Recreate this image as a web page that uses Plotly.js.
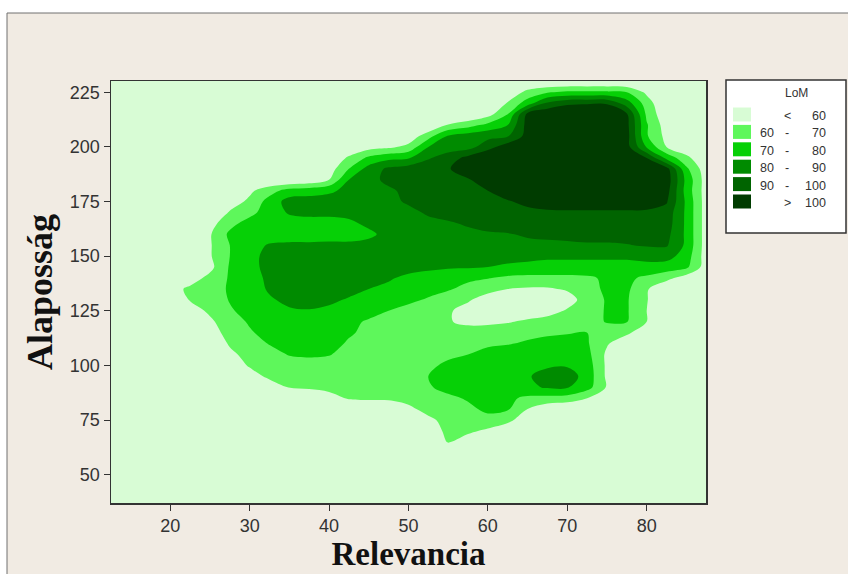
<!DOCTYPE html>
<html><head><meta charset="utf-8">
<script src="https://cdn.plot.ly/plotly-3.0.1.min.js"></script>
<style>html,body{margin:0;padding:0;background:#fff;}#chart{width:848px;height:574px;}</style>
</head><body><div id="chart"></div>
<script>
// Relevancia (x grid) and Alaposság (y grid, top to bottom)
const relevancia = [10,12.5,15,17.5,20,22.5,25,27.5,30,32.5,35,37.5,40,42.5,45,47.5,50,52.5,55,57.5,60,62.5,65,67.5,70,72.5,75,77.5,80,82.5,85,87.5,90];
const alapossag = [235,230,225,220,215,210,205,200,195,190,185,180,175,170,165,160,155,150,145,140,135,130,125,120,115,110,105,100,95,90,85,80,75,70,65,60,55,50,45,40,35];
// LoM values, one row per Alaposság value
const lom = [
[50,50,50,50,50,50,50,50,50,50,50, 50,50,50,50,50,50,50,50,50,50,50, 50,50,50,50,50,50,50,50,50,50,50],
[50,50,50,50,50,50,50,50,50,50,50, 50,50,50,50,50,50,50,50,50,50,50, 50,50,50,50,50,50,50,50,50,50,50],
[50,50,50,50,50,50,50,50,50,50,50, 50,50,50,50,50,50,50,50,50,50,52, 63,69,72,72,72,70,58,50,50,50,50],
[50,50,50,50,50,50,50,50,50,50,50, 50,50,50,50,50,50,50,50,50,50,61, 75,92,98,99,99,85,65,50,50,50,50],
[50,50,50,50,50,50,50,50,50,50,50, 50,50,50,50,50,50,50,50,50,56,70, 103,108,110,110,110,101,68,52,50,50,50],
[50,50,50,50,50,50,50,50,50,50,50, 50,50,50,50,50,50,50,61,66,73,80, 104,110,112,112,112,103,71,55,50,50,50],
[50,50,50,50,50,50,50,50,50,50,50, 50,50,50,50,50,53,66,81,85,87,89, 104,110,112,112,112,104,71,57,50,50,50],
[50,50,50,50,50,50,50,50,50,50,50, 50,50,50,56,58,63,80,85,86,96,106, 110,112,112,112,112,104,79,60,52,50,50],
[50,50,50,50,50,50,50,50,50,50,50, 50,50,62,72,77,79,89,95,103,110,112, 112,112,112,112,112,110,100,77,63,50,50],
[50,50,50,50,50,50,50,50,50,50,50, 50,55,70,84,92,95,96,99,107,110,112, 112,112,112,112,112,112,110,104,72,54,50],
[50,50,50,50,50,50,50,50,50,50,50, 52,60,80,86,93,95,96,97,99,106,110, 112,112,112,112,112,112,112,106,77,55,50],
[50,50,50,50,50,50,50,50,58,66,74, 76,78,83,86,88,93,95,96,97,100,106, 110,110,110,110,110,110,110,104,76,55,50],
[50,50,50,50,50,50,50,55,62,74,84, 84,85,86,87,88,91,94,95,96,97,99, 103,106,108,108,108,108,106,101,78,55,50],
[50,50,50,50,50,50,50,61,67,75,81, 82,82,83,85,86,88,91,93,94,95,96, 97,98,98,98,98,98,98,96,78,55,50],
[50,50,50,50,50,50,56,67,74,76,76, 77,77,78,82,84,86,88,89,91,93,94, 95,96,96,96,96,96,96,95,78,55,50],
[50,50,50,50,50,50,59,72,75,75,75, 75,76,76,78,83,85,86,87,88,89,89.5, 91,92,93,93,93,94,94,93,78,55,50],
[50,50,50,50,50,50,59,70,76,81,82, 82,82,82,83,84,85,85,86,86,87,87, 88,88,88,89,89,89.5,91,91,78,55,50],
[50,50,50,50,50,50,59,70,77,83,85, 86,86,86,86,86,86,85,84,83,83,82, 82,81,81,81,81,81,83,84,75,55,50],
[50,50,50,50,50,50,57,71,77,83,86, 87,87,86,85,84,83,82,81,81,80,79, 78,78,78,78,78,78,77,75,72,55,50],
[50,50,50,50,50,55,63,71,76,82,85, 86,86,85,83,81,78,76,74,72,70.5,68, 67,67,67,68,72,72,68,63,55,50,50],
[50,50,50,50,56,62,66,71,76,81,85, 86,85,83,80,78,76,73,71,67,63,60, 59,59,61,66,72,72,61,52,50,50,50],
[50,50,50,50,55,60.5,65,70.5,75,79,82, 83,82,79,76,74,72,69,65,61,56,53, 52,52,56,64,71,71,60.5,52,50,50,50],
[50,50,50,50,50,55,62,69,73,76,79, 79.5,78,76,73,70,67,64,61,57,53,52, 53,56,61,65,71,71,60,52,50,50,50],
[50,50,50,50,50,50,58,66,71,74,76, 76,75,72,69,67,65,63,61,57,57,59, 62,64,65,67,70.5,70.5,60,52,50,50,50],
[50,50,50,50,50,50,55,64,69,73,75, 75,74,71,68,67,66,66,66,66,67,67, 68,69,69.5,70,66,62,53,50,50,50,50],
[50,50,50,50,50,50,53,61,66,70.5,73, 74,73,69,67,66,66,66,67,68,69,69.5, 71,72,73,71,61,53,50,50,50,50,50],
[50,50,50,50,50,50,50,58,63,67,70.5, 71.5,70.5,67,66,65,65,66,68,70,72,74, 75,76,76,73,58,50,50,50,50,50,50],
[50,50,50,50,50,50,50,54,61,64,66, 66,66,65,65,65,66,68,72,74,75,76, 77,78.5,79,75,58,50,50,50,50,50,50],
[50,50,50,50,50,50,50,50,56,62,64, 65,65,65,65,65,67,70,74,76,76,77, 79,84,85,76,58,50,50,50,50,50,50],
[50,50,50,50,50,50,50,50,50,55,60.5, 62,63,63,63,63,65,69,73,74,75,76, 78,81,81,74,59,50,50,50,50,50,50],
[50,50,50,50,50,50,50,50,50,50,50, 50,56,61,62,62,63,65,68,71,73,72, 68,67,66,60,52,50,50,50,50,50,50],
[50,50,50,50,50,50,50,50,50,50,50, 50,50,50,50,52,58,63,65,68,72,71, 60,53,50,50,50,50,50,50,50,50,50],
[50,50,50,50,50,50,50,50,50,50,50, 50,50,50,50,50,50,58,63,65,67,63, 53,50,50,50,50,50,50,50,50,50,50],
[50,50,50,50,50,50,50,50,50,50,50, 50,50,50,50,50,50,53,63,62,58,52, 50,50,50,50,50,50,50,50,50,50,50],
[50,50,50,50,50,50,50,50,50,50,50, 50,50,50,50,50,50,50,61,55,50,50, 50,50,50,50,50,50,50,50,50,50,50],
[50,50,50,50,50,50,50,50,50,50,50, 50,50,50,50,50,50,50,50,50,50,50, 50,50,50,50,50,50,50,50,50,50,50],
[50,50,50,50,50,50,50,50,50,50,50, 50,50,50,50,50,50,50,50,50,50,50, 50,50,50,50,50,50,50,50,50,50,50],
[50,50,50,50,50,50,50,50,50,50,50, 50,50,50,50,50,50,50,50,50,50,50, 50,50,50,50,50,50,50,50,50,50,50],
[50,50,50,50,50,50,50,50,50,50,50, 50,50,50,50,50,50,50,50,50,50,50, 50,50,50,50,50,50,50,50,50,50,50],
[50,50,50,50,50,50,50,50,50,50,50, 50,50,50,50,50,50,50,50,50,50,50, 50,50,50,50,50,50,50,50,50,50,50],
[50,50,50,50,50,50,50,50,50,50,50, 50,50,50,50,50,50,50,50,50,50,50, 50,50,50,50,50,50,50,50,50,50,50]
];
const xTicks = [20,30,40,50,60,70,80];
const yTicks = [50,75,100,125,150,175,200,225];
const bandColors = ['#d8fcd5','#5ef75b','#06d006','#008b00','#006400','#003c00'];
const legendTitle = 'LoM';
const legendLow  = ['',  '60','70','80','90', ''];
const legendSep  = ['<', '-', '-', '-', '-', '>'];
const legendHigh = ['60','70','80','90','100','100'];

const W = 848, H = 574, ML = 111, MR = 142, MT = 81, MB = 71;
const PW = W - ML - MR, PH = H - MT - MB;
const px = v => (v - ML) / PW;
const py = v => (H - MB - v) / PH;

const stops = [0, 0.08, 0.26, 0.45, 0.63, 0.82, 1];
const colorscale = [];
bandColors.forEach((c, i) => { colorscale.push([stops[i], c]); colorscale.push([stops[i+1], c]); });

const trace = {
  type: 'contour', x: relevancia, y: alapossag, z: lom,
  autocontour: false,
  contours: {start: 60, end: 100, size: 10, coloring: 'fill', showlines: false},
  line: {width: 0, smoothing: 1},
  colorscale: colorscale, showscale: false, hoverinfo: 'skip'
};

const shapes = [{
  type: 'rect', xref: 'paper', yref: 'paper', layer: 'below',
  x0: px(7), x1: px(860), y0: py(590), y1: py(13),
  fillcolor: '#f1ebe3', line: {color: '#707070', width: 1}
}, {
  type: 'rect', xref: 'paper', yref: 'paper',
  x0: px(726), x1: px(846), y0: py(233), y1: py(80),
  fillcolor: '#ffffff', line: {color: '#333333', width: 1.5}
}];
const annotations = [{
  xref: 'paper', yref: 'paper', x: px(797), y: py(93), text: legendTitle, showarrow: false,
  xanchor: 'center', yanchor: 'middle', font: {family: 'Liberation Sans, Arial, sans-serif', size: 12, color: '#333'}
}];
const lf = {family: 'Liberation Sans, Arial, sans-serif', size: 12.5, color: '#333'};
bandColors.forEach((c, i) => {
  const cy = 114.5 + i * 17.4;
  shapes.push({type: 'rect', xref: 'paper', yref: 'paper', x0: px(733), x1: px(751), y0: py(cy + 7), y1: py(cy - 7), fillcolor: c, line: {width: 0}});
  const ty = py(cy + 1.5);
  if (legendLow[i]) annotations.push({xref:'paper', yref:'paper', x: px(758), y: ty, text: legendLow[i], showarrow:false, xanchor:'left', yanchor:'middle', font: lf});
  annotations.push({xref:'paper', yref:'paper', x: px(787), y: ty, text: legendSep[i], showarrow:false, xanchor:'center', yanchor:'middle', font: lf});
  annotations.push({xref:'paper', yref:'paper', x: px(828), y: ty, text: legendHigh[i], showarrow:false, xanchor:'right', yanchor:'middle', font: lf});
});

const tickFont = {family: 'Liberation Sans, Arial, sans-serif', size: 18, color: '#333'};
const titleFont = {family: 'Liberation Serif, Times New Roman, serif', size: 33, color: '#111', weight: 'bold'};
const yTitleFont = {family: 'Liberation Serif, Times New Roman, serif', size: 36, color: '#111', weight: 'bold'};

const layout = {
  width: W, height: H, margin: {l: ML, r: MR, t: MT, b: MB, pad: 0},
  paper_bgcolor: '#ffffff', plot_bgcolor: bandColors[0],
  showlegend: false,
  xaxis: {range: [12.54, 87.47], tickvals: xTicks, ticktext: xTicks.map(String), ticks: 'outside', ticklen: 6, tickwidth: 1, tickcolor: '#333',
    showline: true, linecolor: '#333', linewidth: 1.5, mirror: true, showgrid: false, zeroline: false, tickfont: tickFont,
    title: {text: 'Relevancia', font: titleFont, standoff: 3}, automargin: false},
  yaxis: {range: [37, 230.2], tickvals: yTicks, ticktext: yTicks.map(String), ticks: 'outside', ticklen: 6, tickwidth: 1, tickcolor: '#333',
    showline: true, linecolor: '#333', linewidth: 1.5, mirror: true, showgrid: false, zeroline: false, tickfont: tickFont,
    title: {text: 'Alaposság', font: yTitleFont, standoff: 6}, automargin: false},
  shapes: shapes, annotations: annotations
};
Plotly.newPlot('chart', [trace], layout, {displayModeBar: false, staticPlot: true});
</script></body></html>
